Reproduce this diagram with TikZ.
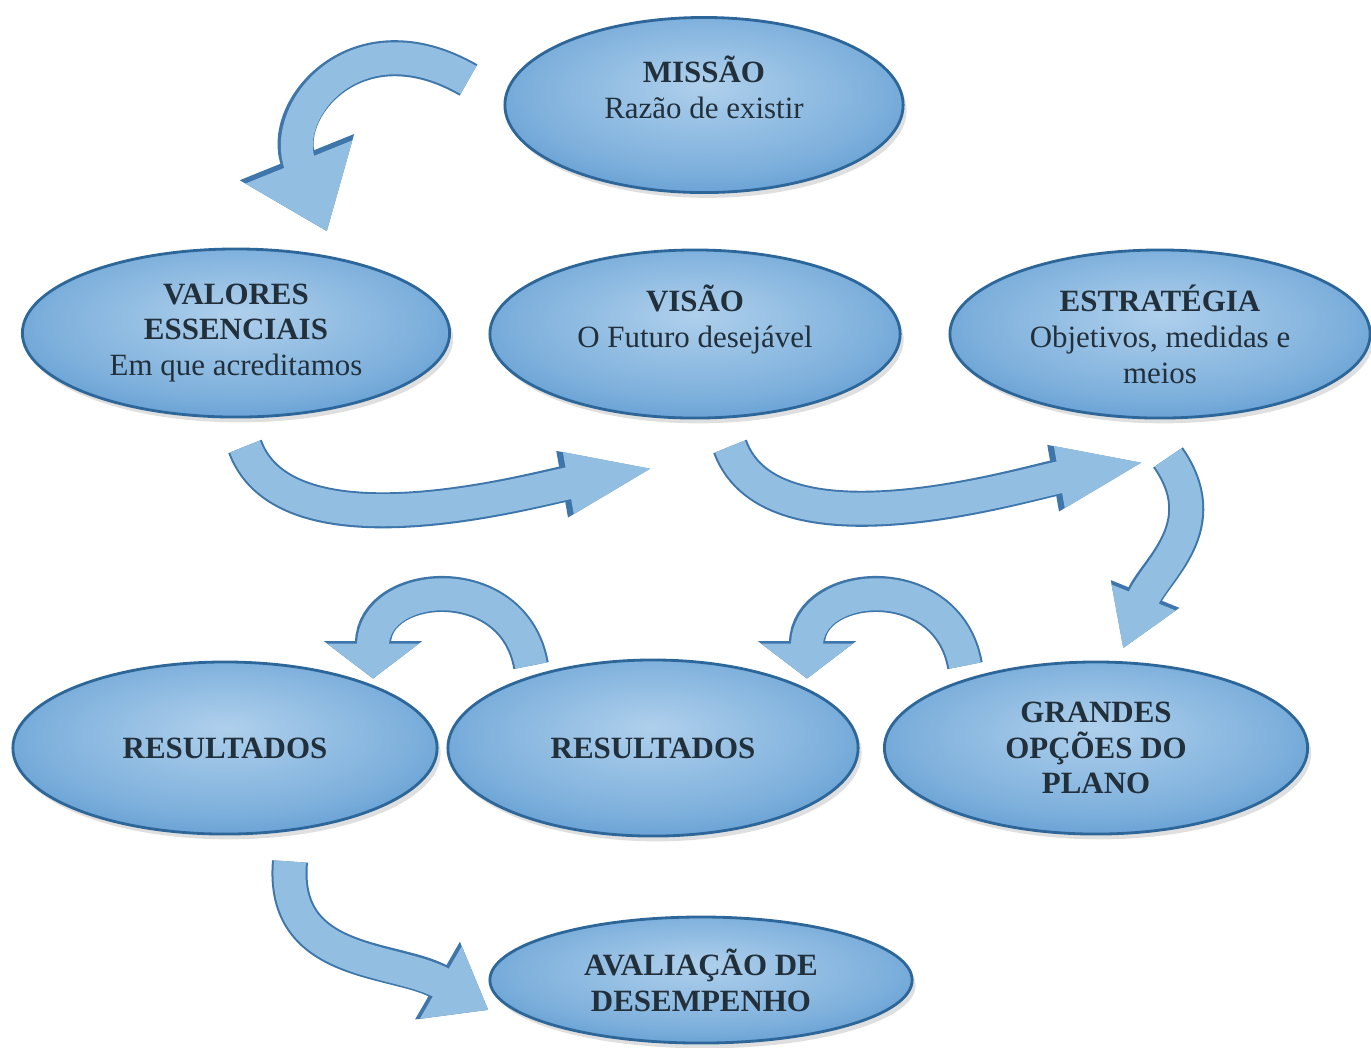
\documentclass[tikz,border=0pt]{standalone}
\usepackage{fontspec}
\setmainfont{Liberation Serif}
\usetikzlibrary{arrows.meta,calc,shapes.geometric,shadows}

\definecolor{ellinner}{HTML}{AFD0EC}
\definecolor{ellmid}{HTML}{7EB0DC}
\definecolor{ellouter}{HTML}{3C84C5}
\definecolor{elledge}{HTML}{2D6699}
\definecolor{arrowfill}{HTML}{92BEE2}
\definecolor{arrowedge}{HTML}{3E75AA}
\definecolor{textdark}{HTML}{22303C}
\pgfdeclareradialshading{ellshade}{\pgfpoint{0bp}{6bp}}{color(0bp)=(ellinner); color(22bp)=(ellmid); color(42bp)=(ellouter); color(50bp)=(ellouter)}

\begin{document}
\begin{tikzpicture}
        [x=0.01cm,y=-0.01cm,
         stage/.style n args={2}{ellipse,shading=ellshade,draw=elledge,line width=0.8pt,
           drop shadow={opacity=.25,shadow xshift=1pt,shadow yshift=-1.5pt},
           minimum width=#1,minimum height=#2,inner sep=0pt,align=center,
           text=textdark,font=\fontsize{8.8}{10.2}\selectfont},
         bigarrow/.style 2 args={line width=0.32cm,draw=arrowfill,-{Triangle[length=#1,width=#2]},
           preaction={draw=arrowedge,line width=0.36cm,-{Triangle[length=#1,width=#2,scale=1.07]}}}]
        \useasboundingbox (0,0) rectangle (1371,1047);

        \node[stage={3.98cm}{1.75cm}] (missao) at (704,105) {\textbf{MISSÃO}\\Razão de existir\\\mbox{}};
        \node[stage={4.27cm}{1.68cm}] (valores) at (236,333) {\textbf{VALORES}\\\textbf{ESSENCIAIS}\\Em que acreditamos};
        \node[stage={4.1cm}{1.68cm}] (visao) at (695,334) {\textbf{VISÃO}\\O Futuro desejável\\\mbox{}};
        \node[stage={4.2cm}{1.68cm}] (estrategia) at (1160,334) {\textbf{ESTRATÉGIA}\\Objetivos, medidas e\\meios};
        \node[stage={4.24cm}{1.72cm}] (resleft) at (225,748) {\textbf{RESULTADOS}};
        \node[stage={4.1cm}{1.76cm}] (resmid) at (653,748) {\textbf{RESULTADOS}};
        \node[stage={4.23cm}{1.72cm}] (grandes) at (1096,748) {\textbf{GRANDES}\\\textbf{OPÇÕES DO}\\\textbf{PLANO}};
        \node[stage={4.22cm}{1.26cm}] (avaliacao) at (701,980) {\textbf{AVALIAÇÃO DE}\\\textbf{DESEMPENHO}};

        \coordinate (missao-out) at ($(missao.west)+(-35,-25)$);
        \coordinate (valores-in) at ($(valores.north)+(91,-16)$);
        \coordinate (valores-out) at ($(valores.south)+(9,28)$);
        \coordinate (visao-in) at ($(visao.south)+(-38,48)$);
        \coordinate (visao-out) at ($(visao.south)+(35,27)$);
        \coordinate (estrategia-in) at ($(estrategia.south)+(-12,42)$);
        \coordinate (estrategia-out) at ($(estrategia.south)+(8,38)$);
        \coordinate (grandes-in) at ($(grandes.north)+(27,-12)$);
        \coordinate (grandes-out) at ($(grandes.north)+(-131,5)$);
        \coordinate (resmid-in) at ($(resmid.north)+(154,20)$);
        \coordinate (resmid-out) at ($(resmid.north)+(-122,7)$);
        \coordinate (resleft-in) at ($(resleft.north)+(148,18)$);
        \coordinate (resleft-out) at ($(resleft.south)+(65,26)$);
        \coordinate (avaliacao-in) at ($(avaliacao.west)+(0,30)$);

        \foreach \from/\to/\o/\i/\l/\hl/\hw in {
            missao-out/valores-in/150/112/1.6/0.75cm/1.1cm,
            valores-out/visao-in/-70/190/0.75/0.9cm/0.55cm,
            visao-out/estrategia-in/-70/190/0.75/0.9cm/0.55cm,
            estrategia-out/grandes-in/-55/68/1.1/0.55cm/0.65cm,
            grandes-out/resmid-in/100/90/1.6/0.35cm/0.9cm,
            resmid-out/resleft-in/100/90/1.6/0.35cm/0.9cm,
            resleft-out/avaliacao-in/-95/150/1.1/0.55cm/0.8cm}
            \draw[bigarrow={\hl}{\hw}] (\from) to[out=\o,in=\i,looseness=\l] (\to);

      \end{tikzpicture}
\end{document}
